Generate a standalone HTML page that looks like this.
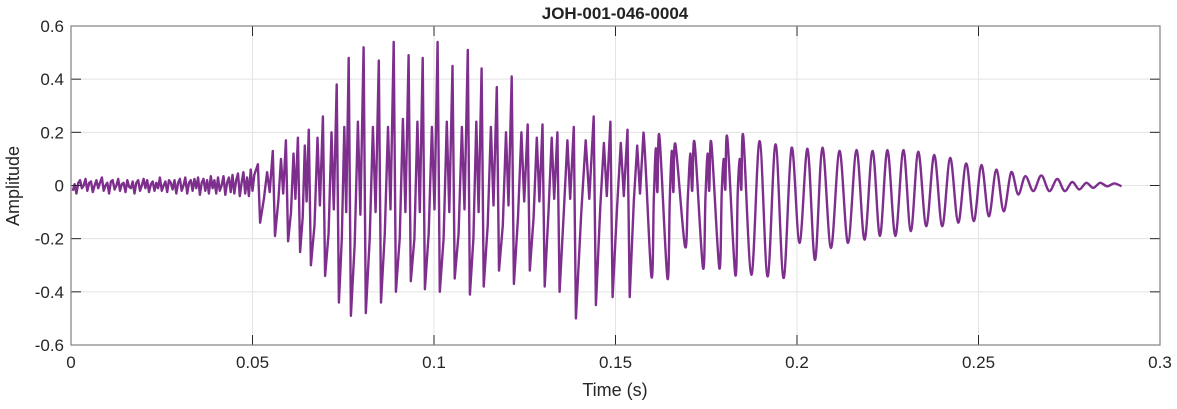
<!DOCTYPE html>
<html><head><meta charset="utf-8"><style>
body{margin:0;background:#fff;width:1177px;height:404px;overflow:hidden;font-family:"Liberation Sans",Arial,sans-serif}
</style></head><body>
<svg id="chart" width="1177" height="404" xmlns="http://www.w3.org/2000/svg" font-family="Liberation Sans, Arial, sans-serif">
<rect width="1177" height="404" fill="#fff"/>
<g id="grid"></g>
<g id="series"></g>
<g id="axes"></g>
<text x="615" y="19" text-anchor="middle" font-size="17" font-weight="bold" fill="#222">JOH-001-046-0004</text>
<text x="615" y="396" text-anchor="middle" font-size="18" fill="#262626">Time (s)</text>
<text transform="translate(19,186) rotate(-90)" text-anchor="middle" font-size="18" fill="#262626">Amplitude</text>
</svg>
<script>
const xTicks=[0,0.05,0.1,0.15,0.2,0.25,0.3];
const xTickLabels=["0","0.05","0.1","0.15","0.2","0.25","0.3"];
const yTicks=[-0.6,-0.4,-0.2,0,0.2,0.4,0.6];
const yTickLabels=["-0.6","-0.4","-0.2","0","0.2","0.4","0.6"];
const noiseStart=0.0005, noiseStep=0.0005;
const noiseV=[-0.02,0.005,-0.03,0.01,0.02,-0.01,0.0,0.025,-0.02,0.01,0.015,-0.025,0.0,0.02,-0.01,0.01,0.03,-0.02,0.0,0.01,-0.03,0.015,0.02,-0.015,0.0,0.025,-0.02,0.005,0.01,-0.025,0.02,-0.005,-0.01,0.015,-0.03,0.01,0.02,-0.02,0.0,0.025,-0.01,0.02,-0.025,0.005,0.015,-0.02,0.01,-0.01,0.03,-0.02,0.0,0.015,-0.025,0.02,0.01,-0.015,0.02,-0.03,0.01,0.025,-0.02,0.0,0.03,-0.03,0.01,0.02,-0.02,0.025,-0.01,0.03,-0.035,0.01,0.025,-0.02,0.02,-0.03,0.035,-0.01,0.02,-0.03,0.03,-0.02,0.0,0.035,-0.035,0.01,0.03,-0.025,0.04,-0.03,0.02,0.045,-0.04,0.01,0.05,-0.03,0.03,-0.04,0.06,-0.02,0.04];
const posT=[.0515,.0556,.0592,.0625,.0655,.0694,.0732,.0765,.0806,.0848,.0889,.0930,.0969,.1010,.1051,.1093,.1131,.1173,.1214,.1258,.1299,.1340,.1385,.1440,.1486,.1533,.1577,.1621,.1665,.1718,.1764,.1808,.1852,.1897,.1941,.1985,.2029,.2070,.2117,.2164,.2208,.2249,.2293,.2334,.2378,.2422,.2466,.2508,.2549,.2590,.2629,.2673,.2717,.2758,.2797,.2835,.2874];
const posV=[.08,.13,.17,.18,.21,.26,.38,.48,.52,.47,.54,.49,.48,.54,.45,.51,.44,.37,.41,.23,.23,.20,.22,.26,.24,.21,.199,.186,.155,.161,.161,.18,.186,.167,.155,.142,.138,.142,.13,.133,.13,.133,.133,.127,.115,.104,.083,.077,.06,.05,.035,.038,.025,.013,.01,.01,.008];
const negV=[-.14,-.19,-.21,-.25,-.30,-.34,-.44,-.49,-.48,-.44,-.40,-.36,-.39,-.40,-.35,-.41,-.38,-.32,-.37,-.32,-.38,-.40,-.50,-.45,-.42,-.42,-.342,-.348,-.229,-.31,-.31,-.336,-.336,-.342,-.348,-.216,-.28,-.235,-.216,-.204,-.19,-.19,-.172,-.153,-.153,-.14,-.134,-.116,-.097,-.034,-.021,-.021,-.021,-.015,-.009,-.003,-.003];
const secLo=[-.05,-.06,-.1,-.12,-.15,-.18,-.2,-.22,-.2,-.18,-.2,-.2,-.18,-.2,-.18,-.2,-.15,-.15,-.12,-.12,-.1,-.1,-.1,-.08,-.08,-.06,-.05,-.05,-.04,-.04,-.03,-.03];
const secHi=[.05,.1,.12,.15,.18,.2,.22,.24,.22,.22,.25,.24,.22,.24,.22,.24,.22,.2,.2,.18,.18,.17,.17,.16,.16,.15,.14,.13,.12,.12,.1,.1];

const L=71,R=1160,T=26,B=345;
const xs=t=>L+(t-0)/(0.3-0)*(R-L);
const ys=v=>B-(v+0.6)/1.2*(B-T);
const NS="http://www.w3.org/2000/svg";
function mk(tag,attrs,parent){const e=document.createElementNS(NS,tag);for(const k in attrs)e.setAttribute(k,attrs[k]);parent.appendChild(e);return e;}
const grid=document.getElementById('grid'),axes=document.getElementById('axes'),series=document.getElementById('series');
xTicks.forEach((t,i)=>{
 const g=mk('line',{x1:xs(t),x2:xs(t),y1:T,y2:B,stroke:'#e3e3e3','stroke-width':1},grid);
 
 
 const tk=mk('line',{x1:xs(t),x2:xs(t),y1:B,y2:B-10,stroke:'#262626','stroke-width':1},axes);
 
 
 const tk2=mk('line',{x1:xs(t),x2:xs(t),y1:T,y2:T+10,stroke:'#262626','stroke-width':1},axes);
 
 
 const tx=mk('text',{x:xs(t),y:B+23,'text-anchor':'middle','font-size':17,fill:'#262626'},axes);
 tx.textContent=xTickLabels[i];
 
 
});
yTicks.forEach((v,i)=>{
 const g=mk('line',{x1:L,x2:R,y1:ys(v),y2:ys(v),stroke:'#e3e3e3','stroke-width':1},grid);
 
 
 const tk=mk('line',{x1:L,x2:L+10,y1:ys(v),y2:ys(v),stroke:'#262626','stroke-width':1},axes);
 
 
 const tk2=mk('line',{x1:R,x2:R-10,y1:ys(v),y2:ys(v),stroke:'#262626','stroke-width':1},axes);
 
 
 const tx=mk('text',{x:L-7,y:ys(v)+6,'text-anchor':'end','font-size':17,fill:'#262626'},axes);
 tx.textContent=yTickLabels[i];
 
 
});
const box=mk('rect',{x:L,y:T,width:R-L,height:B-T,fill:'none',stroke:'#808080','stroke-width':1.2},axes);



const pts=[];
noiseV.forEach((v,i)=>pts.push([noiseStart+i*noiseStep,v,0]));
posT.forEach((t,i)=>{
 const next=i<posT.length-1?posT[i+1]:t+0.004;
 const gap=next-t;
 const spiky=t<0.155;
 const lag=spiky?0.0006:gap*0.5;
 const sm=spiky?0:1;
 pts.push([t,posV[i],sm]);
 pts.push([t+lag,negV[i],sm]);
 if(i<secHi.length){
  const rest=gap-lag;
  pts.push([t+lag+rest*0.3,secLo[i],sm]);
  pts.push([t+lag+rest*0.55,secHi[i],sm]);
  pts.push([t+lag+rest*0.75,secLo[i]*0.5,sm]);
 }
});
const P=pts.map(p=>[xs(p[0]),ys(p[1]),p[2]]);
let d='M'+P[0][0].toFixed(1)+','+P[0][1].toFixed(1);
for(let i=1;i<P.length;i++){
 const p1=P[i-1],p2=P[i];
 if(p1[2]&&p2[2]){
  const p0=P[i-2]||p1,p3=P[i+1]||p2;
  const c1x=p1[0]+(p2[0]-p0[0])/6,c1y=p1[1]+(p2[1]-p0[1])/6;
  const c2x=p2[0]-(p3[0]-p1[0])/6,c2y=p2[1]-(p3[1]-p1[1])/6;
  d+=' C'+c1x.toFixed(1)+','+c1y.toFixed(1)+' '+c2x.toFixed(1)+','+c2y.toFixed(1)+' '+p2[0].toFixed(1)+','+p2[1].toFixed(1);
 } else d+=' L'+p2[0].toFixed(1)+','+p2[1].toFixed(1);
}
const path=mk('path',{d:d,fill:'none',stroke:'#7E2F8E','stroke-width':2.4,'stroke-linejoin':'round'},series);


</script>
</body></html>
